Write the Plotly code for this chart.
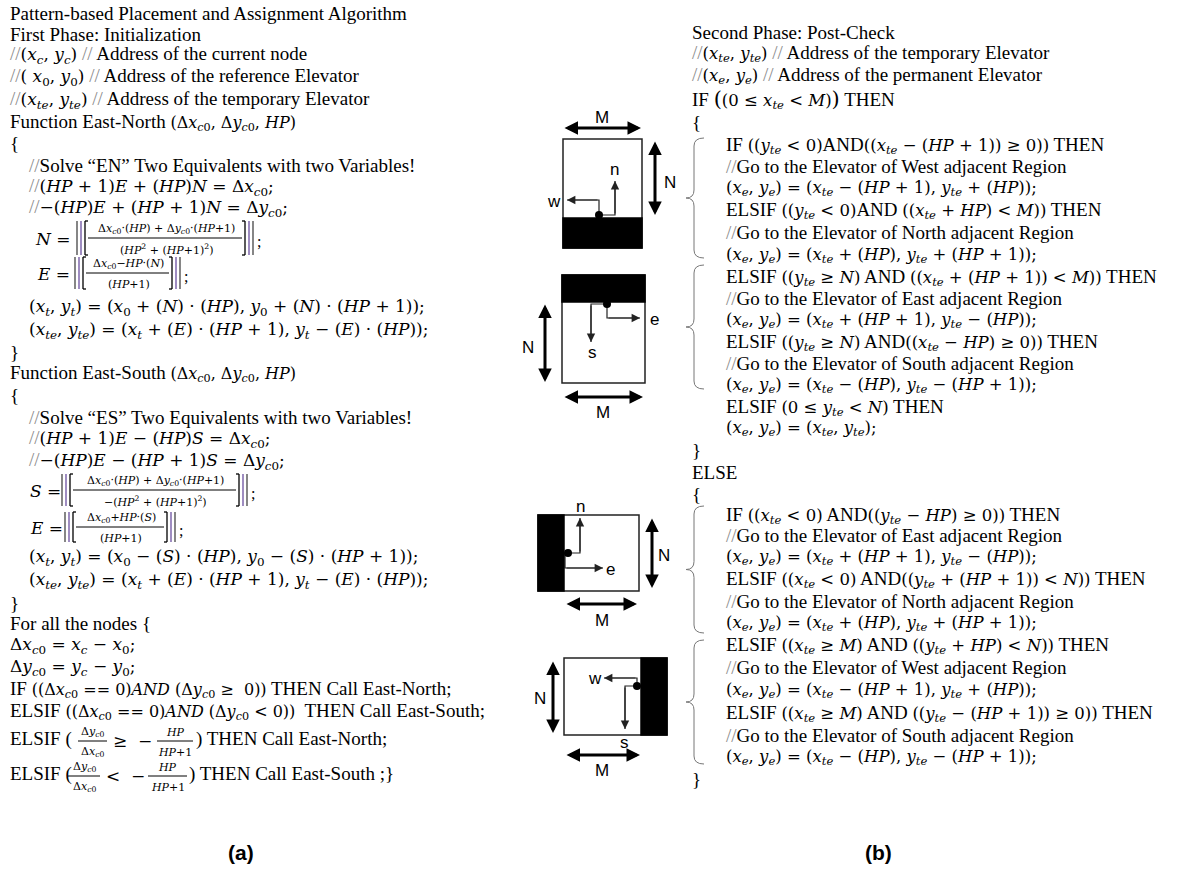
import plotly.graph_objects as go

W, H = 1183, 870
SERIF = "Liberation Serif, Times New Roman, serif"
SANS = "Liberation Sans, Arial, sans-serif"
MATH = "DejaVu Serif"
GREY = "#8c8c8c"
SL = f'<span style="color:{GREY}">//</span>'


def m(s, size=17):
    # math pieces: the original uses a wide math face
    return f'<span style="font-family:{MATH};font-size:{size}px">{s}</span>'


def mr(s):
    return m(s, 16.5)


def sb(base, sub):
    return f"<i>{base}</i><sub><i>{sub}</i></sub>"


XC, YC = sb("x", "c"), sb("y", "c")
X0, Y0 = "<i>x</i><sub>0</sub>", "<i>y</i><sub>0</sub>"
XT, YT = sb("x", "t"), sb("y", "t")
XTE, YTE = sb("x", "te"), sb("y", "te")
XE, YE = sb("x", "e"), sb("y", "e")
DX = "Δ<i>x</i><sub><i>c</i>0</sub>"
DY = "Δ<i>y</i><sub><i>c</i>0</sub>"
HP = "<i>HP</i>"
LT = "&lt;"

# ---- text of panel (a) ----
left_lines = [
    "Pattern-based Placement and Assignment Algorithm",
    "First Phase: Initialization",
    f"{SL}{m(f'({XC}, {YC})')} {SL} Address of the current node",
    f"{SL}{m(f'( {X0}, {Y0})')} {SL} Address of the reference Elevator",
    f"{SL}{m(f'({XTE}, {YTE})')} {SL} Address of the temporary Elevator",
    f"Function East-North {m(f'({DX}, {DY}, {HP})', 16)}",
    "{",
    f"{SL}Solve “EN” Two Equivalents with two Variables!",
    SL + m(f"({HP} + 1)<i>E</i> + ({HP})<i>N</i> = {DX};"),
    SL + m(f"−({HP})<i>E</i> + ({HP} + 1)<i>N</i> = {DY};"),
    m(f"({XT}, {YT}) = ({X0} + (<i>N</i>) · ({HP}), {Y0} + (<i>N</i>) · ({HP} + 1));"),
    m(f"({XTE}, {YTE}) = ({XT} + (<i>E</i>) · ({HP} + 1), {YT} − (<i>E</i>) · ({HP}));"),
    "}",
    f"Function East-South {m(f'({DX}, {DY}, {HP})', 16)}",
    "{",
    f"{SL}Solve “ES” Two Equivalents with two Variables!",
    SL + m(f"({HP} + 1)<i>E</i> − ({HP})<i>S</i> = {DX};"),
    SL + m(f"−({HP})<i>E</i> − ({HP} + 1)<i>S</i> = {DY};"),
    m(f"({XT}, {YT}) = ({X0} − (<i>S</i>) · ({HP}), {Y0} − (<i>S</i>) · ({HP} + 1));"),
    m(f"({XTE}, {YTE}) = ({XT} + (<i>E</i>) · ({HP} + 1), {YT} − (<i>E</i>) · ({HP}));"),
    "}",
    "For all the nodes {",
    m(f"{DX} = {XC} − {X0};"),
    m(f"{DY} = {YC} − {Y0};"),
    f"IF {m(f'(({DX} == 0)<i>AND</i> ({DY} ≥  0))', 16)} THEN Call East-North;",
    f"ELSIF {m(f'(({DX} == 0)<i>AND</i> ({DY} {LT} 0))', 16)}  THEN Call East-South;",
]
left_y = [13, 34, 55, 77, 100, 122, 143, 165, 187, 208, 307, 330, 352, 373, 395,
          417, 439, 461, 557, 580, 603, 623, 645, 667, 689, 711]
left_indent = [0, 0, 0, 0, 0, 0, 0, 1, 1, 1, 1, 1, 0, 0, 0,
               1, 1, 1, 1, 1, 0, 0, 0, 0, 0, 0]

# floor-bracket equations
frac_lhs = ["<i>N</i> =", "<i>E</i> =", "<i>S</i> =", "<i>E</i> ="]
frac_num = [
    f"{DX}·({HP}) + {DY}·({HP}+1)",
    f"{DX}−{HP}·(<i>N</i>)",
    f"{DX}·({HP}) + {DY}·({HP}+1)",
    f"{DX}+{HP}·(<i>S</i>)",
]
frac_den = [
    f"({HP}<sup>2</sup> + ({HP}+1)<sup>2</sup>)",
    f"({HP}+1)",
    f"−({HP}<sup>2</sup> + ({HP}+1)<sup>2</sup>)",
    f"({HP}+1)",
]
# lhs x, bar y, bracket left x, bracket right x, half height
frac_pos = [(33, 238, 77, 253, 17), (35, 273, 75, 180, 16),
            (28, 490, 62, 247, 16), (28, 527, 65, 175, 15)]

# ratio conditions
cond_prefix = ["ELSIF ( ", "ELSIF ("]
cond_op = ["≥  −", f"{LT}  −"]
cond_suffix = [") THEN Call East-North;", ") THEN Call East-South ;}"]
# y, frac1 left/right, op x, frac2 left/right, suffix x
cond_pos = [(741, 78, 107, 111, 157, 193, 194), (776, 68, 100, 104, 148, 187, 187)]

# ---- text of panel (b) ----
BIG_L = '<span style="font-size:21px">(</span>'
BIG_R = '<span style="font-size:21px">)</span>'
right_lines = [
    "Second Phase: Post-Check",
    f"{SL}{mr(f'({XTE}, {YTE})')} {SL} Address of the temporary Elevator",
    f"{SL}{mr(f'({XE}, {YE})')} {SL} Address of the permanent Elevator",
    f"IF {mr(f'{BIG_L}(0 ≤ {XTE} {LT} <i>M</i>){BIG_R}')} THEN",
    "{",
    f"IF {mr(f'(({YTE} {LT} 0)')}AND{mr(f'(({XTE} − ({HP} + 1)) ≥ 0))')} THEN",
    f"{SL}Go to the Elevator of West adjacent Region",
    mr(f"({XE}, {YE}) = ({XTE} − ({HP} + 1), {YTE} + ({HP}));"),
    f"ELSIF {mr(f'(({YTE} {LT} 0)')}AND {mr(f'(({XTE} + {HP}) {LT} <i>M</i>))')} THEN",
    f"{SL}Go to the Elevator of North adjacent Region",
    mr(f"({XE}, {YE}) = ({XTE} + ({HP}), {YTE} + ({HP} + 1));"),
    f"ELSIF {mr(f'(({YTE} ≥ <i>N</i>)')} AND {mr(f'(({XTE} + ({HP} + 1)) {LT} <i>M</i>))')} THEN",
    f"{SL}Go to the Elevator of East adjacent Region",
    mr(f"({XE}, {YE}) = ({XTE} + ({HP} + 1), {YTE} − ({HP}));"),
    f"ELSIF {mr(f'(({YTE} ≥ <i>N</i>)')} AND{mr(f'(({XTE} − {HP}) ≥ 0))')} THEN",
    f"{SL}Go to the Elevator of South adjacent Region",
    mr(f"({XE}, {YE}) = ({XTE} − ({HP}), {YTE} − ({HP} + 1));"),
    f"ELSIF {mr(f'(0 ≤ {YTE} {LT} <i>N</i>)')} THEN",
    mr(f"({XE}, {YE}) = ({XTE}, {YTE});"),
    "}",
    "ELSE",
    "{",
    f"IF {mr(f'(({XTE} {LT} 0)')} AND{mr(f'(({YTE} − {HP}) ≥ 0))')} THEN",
    f"{SL}Go to the Elevator of East adjacent Region",
    mr(f"({XE}, {YE}) = ({XTE} + ({HP} + 1), {YTE} − ({HP}));"),
    f"ELSIF {mr(f'(({XTE} {LT} 0)')} AND{mr(f'(({YTE} + ({HP} + 1)) {LT} <i>N</i>))')} THEN",
    f"{SL}Go to the Elevator of North adjacent Region",
    mr(f"({XE}, {YE}) = ({XTE} + ({HP}), {YTE} + ({HP} + 1));"),
    f"ELSIF {mr(f'(({XTE} ≥ <i>M</i>)')} AND {mr(f'(({YTE} + {HP}) {LT} <i>N</i>))')} THEN",
    f"{SL}Go to the Elevator of West adjacent Region",
    mr(f"({XE}, {YE}) = ({XTE} − ({HP} + 1), {YTE} + ({HP}));"),
    f"ELSIF {mr(f'(({XTE} ≥ <i>M</i>)')} AND {mr(f'(({YTE} − ({HP} + 1)) ≥ 0))')} THEN",
    f"{SL}Go to the Elevator of South adjacent Region",
    mr(f"({XE}, {YE}) = ({XTE} − ({HP}), {YTE} − ({HP} + 1));"),
    "}",
]
right_y = [32, 53, 75, 99, 122, 145, 166, 188, 210, 232, 255, 277, 298, 320, 342,
           363, 385, 407, 428, 450, 472, 494, 515, 535, 557, 579, 601, 623, 645,
           667, 690, 713, 735, 757, 779]
right_indent = [0, 0, 0, 0, 0] + [1] * 14 + [0, 0, 0] + [1] * 12 + [0]

# ---- region diagrams ----
region_box = [(563, 139, 642, 248), (562, 275, 645, 383),
              (538, 515, 639, 591), (564, 658, 667, 735)]
elevator_bar = [(563, 218, 642, 248), (562, 275, 645, 302),
                (538, 515, 564, 591), (641, 658, 667, 735)]
elevator_dot = [(599, 215), (607, 304), (568, 553), (637, 686)]
route_paths = [
    [(599, 215), (599, 200), (567, 200)], [(599, 215), (615, 215), (615, 181)],
    [(607, 304), (607, 318), (640, 318)], [(607, 304), (591, 304), (591, 342)],
    [(568, 553), (580, 553), (580, 518)], [(565, 553), (565, 568), (603, 568)],
    [(637, 686), (637, 678), (604, 678)], [(637, 686), (625, 686), (625, 729)],
]
route_labels = ["w", "n", "e", "s", "n", "e", "w", "s"]
route_label_xy = [(554, 201), (614, 169), (654, 319), (592, 352),
                  (580, 506), (610, 569), (595, 678), (624, 742)]
dim_arrows = [
    ((563, 128), (641, 128)), ((655, 140), (655, 215)),
    ((545, 303), (545, 382)), ((563, 397), (643, 397)),
    ((652, 517), (652, 588)), ((565, 604), (637, 604)),
    ((553, 660), (553, 733)), ((565, 755), (640, 755)),
]
dim_labels = ["M", "N", "N", "M", "N", "M", "N", "M"]
dim_label_xy = [(602, 117), (670, 182), (528, 347), (603, 412),
                (664, 555), (602, 620), (540, 698), (602, 770)]

brace_span = [(138, 258), (265, 389), (506, 633), (640, 764)]

panel_labels = ["(a)", "(b)"]
panel_label_xy = [(241, 852), (878, 852)]

fig = go.Figure()
ann = []
shapes = []


def text(x, y, s, size=19, family=SERIF, anchor="left", color="black"):
    ann.append(dict(x=x, y=y, text=s, showarrow=False, xanchor=anchor,
                    yanchor="middle", font=dict(family=family, size=size, color=color)))


def line(x0, y0, x1, y1, color="black", width=1):
    shapes.append(dict(type="line", x0=x0, y0=y0, x1=x1, y1=y1,
                       line=dict(color=color, width=width)))


for s, y, ind in zip(left_lines, left_y, left_indent):
    text(8 + 19 * ind, y, s)

for lhs, num, den, (lx, by, bl, br, hh) in zip(frac_lhs, frac_num, frac_den, frac_pos):
    text(lx, by + 1, m(lhs))
    text((bl + br) / 2 + 1, by - 9, num, size=11, family=MATH, anchor="center")
    text((bl + br) / 2 + 1, by + 11, den, size=11, family=MATH, anchor="center")
    line(bl + 11, by, br - 11, by, width=1)
    # |[  ]| brackets
    for xb, c in ((bl, "#444"), (bl + 4, "#6b4fa0"), (br, "#444"), (br - 4, "#6b4fa0")):
        line(xb, by - hh, xb, by + hh, color=c, width=1.3)
    line(bl + 8, by - hh, bl + 8, by + hh, width=1.3)
    line(bl + 8, by - hh, bl + 11, by - hh, width=1.3)
    line(bl + 8, by + hh, bl + 11, by + hh, width=1.3)
    line(br - 8, by - hh, br - 8, by + hh, width=1.3)
    line(br - 11, by - hh, br - 8, by - hh, width=1.3)
    line(br - 11, by + hh, br - 8, by + hh, width=1.3)
    text(br + 2, by + 3, ";", size=16)

for pre, op, suf, (y, f1l, f1r, ox, f2l, f2r, sx) in zip(cond_prefix, cond_op, cond_suffix, cond_pos):
    text(8, y - 2, pre)
    text((f1l + f1r) / 2, y - 9, DY, size=11, family=MATH, anchor="center")
    text((f1l + f1r) / 2, y + 11, DX, size=11, family=MATH, anchor="center")
    line(f1l, y, f1r, y)
    text(ox, y, m(op))
    text((f2l + f2r) / 2, y - 9, HP, size=11, family=MATH, anchor="center")
    text((f2l + f2r) / 2, y + 11, f"{HP}+1", size=11, family=MATH, anchor="center")
    line(f2l, y, f2r, y)
    text(sx, y - 2, suf)

for s, y, ind in zip(right_lines, right_y, right_indent):
    text(690 + 34 * ind, y, s)

# diagrams
for (x0, y0, x1, y1) in region_box:
    shapes.append(dict(type="rect", x0=x0, y0=y0, x1=x1, y1=y1,
                       line=dict(color="#222", width=1.5)))
for (x0, y0, x1, y1) in elevator_bar:
    shapes.append(dict(type="rect", x0=x0, y0=y0, x1=x1, y1=y1,
                       fillcolor="black", line=dict(color="black", width=1.5)))

for path in route_paths:
    xs = [p[0] for p in path]
    ys = [p[1] for p in path]
    fig.add_trace(go.Scatter(x=xs, y=ys, mode="lines",
                             line=dict(color="#222", width=1.2), hoverinfo="skip",
                             showlegend=False))
    ann.append(dict(x=xs[-1], y=ys[-1], ax=xs[-2], ay=ys[-2], axref="x", ayref="y",
                    xref="x", yref="y", text="", showarrow=True, arrowhead=2,
                    arrowsize=1.4, arrowwidth=1.2, arrowcolor="#222"))
for lab, (x, y) in zip(route_labels, route_label_xy):
    text(x, y, lab, size=17, family=SANS, anchor="center")

for (p0, p1) in dim_arrows:
    ann.append(dict(x=p1[0], y=p1[1], ax=p0[0], ay=p0[1], axref="x", ayref="y",
                    xref="x", yref="y", text="", showarrow=True, arrowhead=2,
                    arrowside="end+start", arrowsize=0.9, arrowwidth=3,
                    arrowcolor="black"))
for lab, (x, y) in zip(dim_labels, dim_label_xy):
    text(x, y, lab, size=17, family=SANS, anchor="center")

fig.add_trace(go.Scatter(x=[p[0] for p in elevator_dot], y=[p[1] for p in elevator_dot],
                         mode="markers", marker=dict(color="black", size=8),
                         hoverinfo="skip", showlegend=False))

# curly braces
for (y0, y1) in brace_span:
    ym = (y0 + y1) / 2
    xe, xb, xt, r = 704, 694, 686, 8
    d = (f"M {xe},{y0} Q {xb},{y0} {xb},{y0 + r} L {xb},{ym - r} "
         f"Q {xb},{ym} {xt},{ym} Q {xb},{ym} {xb},{ym + r} "
         f"L {xb},{y1 - r} Q {xb},{y1} {xe},{y1}")
    shapes.append(dict(type="path", path=d, line=dict(color="#777", width=1)))

for lab, (x, y) in zip(panel_labels, panel_label_xy):
    text(x, y, f"<b>{lab}</b>", size=21, family=SANS, anchor="center")

fig.update_layout(
    width=W, height=H,
    margin=dict(l=0, r=0, t=0, b=0),
    plot_bgcolor="white", paper_bgcolor="white",
    xaxis=dict(range=[0, W], visible=False, fixedrange=True),
    yaxis=dict(range=[H, 0], visible=False, fixedrange=True),
    annotations=ann, shapes=shapes,
    showlegend=False,
)

# the page body has a default 8px margin; drop it so the figure sits at 0,0
fig.write_html("out.html", config={"displayModeBar": False},
               post_script="document.body.style.margin='0';")
